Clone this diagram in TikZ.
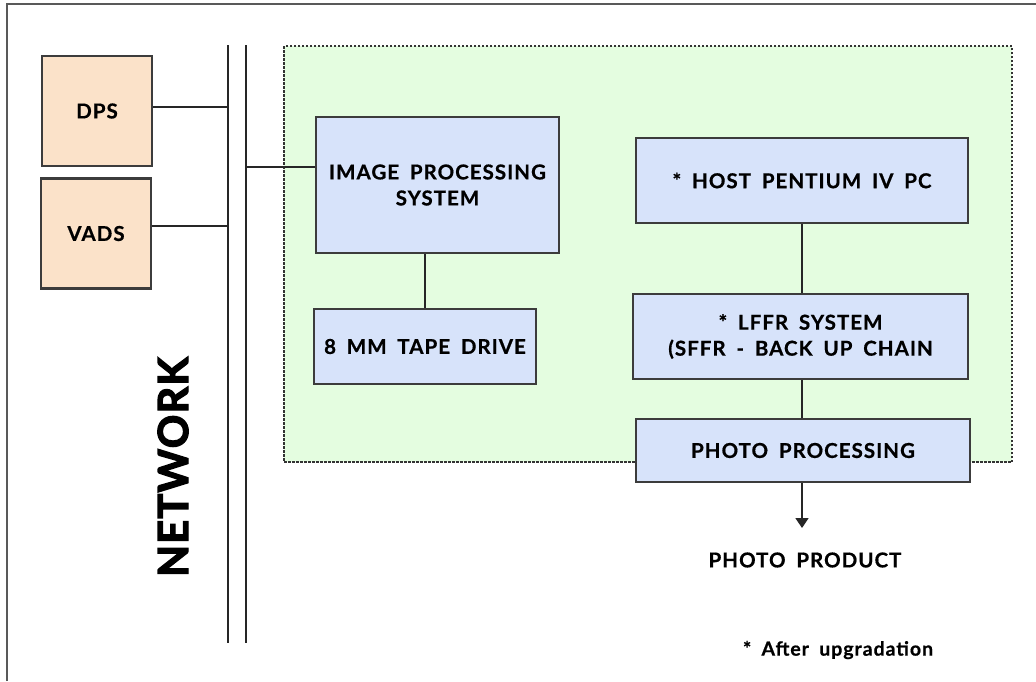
\documentclass[tikz,border=0pt]{standalone}
\usepackage{fontspec}
\setmainfont{Lato}[LetterSpace=5, WordSpace=1.8, FakeBold=0.6]
\newfontfamily\heavyfont{Lato}[LetterSpace=3, FakeBold=3]
\usetikzlibrary{positioning,arrows.meta}
\definecolor{peach}{HTML}{FBE2C9}
\definecolor{paleblue}{HTML}{D7E3FA}
\definecolor{palegreen}{HTML}{E4FDE0}
\definecolor{edge}{HTML}{3C3C3C}

\begin{document}
\begin{tikzpicture}[x=1pt, y=-1pt, font=\bfseries\fontsize{20.5}{26}\selectfont,
    site/.style={draw=edge, line width=2.5pt, fill=peach, minimum width=110pt, minimum height=110pt},
    unit/.style={draw=edge, line width=2.5pt, fill=paleblue, align=center, inner sep=0pt},
    link/.style={draw=black!85, line width=1.6pt}]
    \useasboundingbox (0,0) rectangle (1036,681);
    % frame
    \draw[black!65, line width=1.5pt] (7,681) -- (7,4) -- (1036,4);
    % upgraded area
    \draw[fill=palegreen, draw=black!80, line width=1.4pt, dash pattern=on 2.5pt off 1.5pt]
      (284,46) rectangle (1012,462);
    % network bus
    \coordinate (busLtop) at (228,45);
    \coordinate (busLbot) at (228,643);
    \coordinate (busRtop) at (246,45);
    \coordinate (busRbot) at (246,643);
    \draw[link] (busLtop) -- (busLbot);
    \draw[link] (busRtop) -- (busRbot);
    \node[rotate=90, font=\heavyfont\bfseries\fontsize{41.5}{41.5}\selectfont] (net) at (173,467) {NETWORK};

    \node[site] (dps)  at (97,111)   {DPS};
    \node[site] (vads) at (96,233.5) {VADS};
    \node[unit, minimum width=243pt, minimum height=136pt] (ips)   at (437.5,185)  {IMAGE PROCESSING\\SYSTEM};
    \node[unit, minimum width=222pt, minimum height=75pt]  (tape)  at (425,346.5)  {8 MM TAPE DRIVE};
    \node[unit, minimum width=332pt, minimum height=85pt]  (host)  at (802,180.5)  {* HOST PENTIUM IV PC};
    \node[unit, minimum width=335pt, minimum height=85pt]  (lffr)  at (800.5,336.5) {* LFFR SYSTEM\\(SFFR - BACK UP CHAIN};
    \node[unit, minimum width=334pt, minimum height=63pt]  (photo) at (803,450.5)  {PHOTO PROCESSING};
    \node (product) at (805,560) {PHOTO PRODUCT};
    \node[font=\bfseries\fontsize{19.5}{25}\selectfont] (note) at (838,650) {* After upgradation};

    % links to the bus
    \coordinate (tapDPS)  at (228,107);
    \coordinate (tapVADS) at (228,226);
    \coordinate (tapIPS)  at (246,167);
    \draw[link] (tapDPS) -- (tapDPS -| dps.east);
    \draw[link] (tapVADS) -- (tapVADS -| vads.east);
    \draw[link] (tapIPS) -- (tapIPS -| ips.west);
    % chains
    \draw[link] (ips.south -| tape.north) -- (tape.north);
    \draw[link] (host.south) -- (host.south |- lffr.north);
    \draw[link] (lffr.south -| host.south) -- (photo.north -| host.south);
    \coordinate (outtip) at (802,528);
    \draw[link, -{Triangle[width=13pt,length=10pt]}] (photo.south -| outtip) -- (outtip);
\end{tikzpicture}
\end{document}
